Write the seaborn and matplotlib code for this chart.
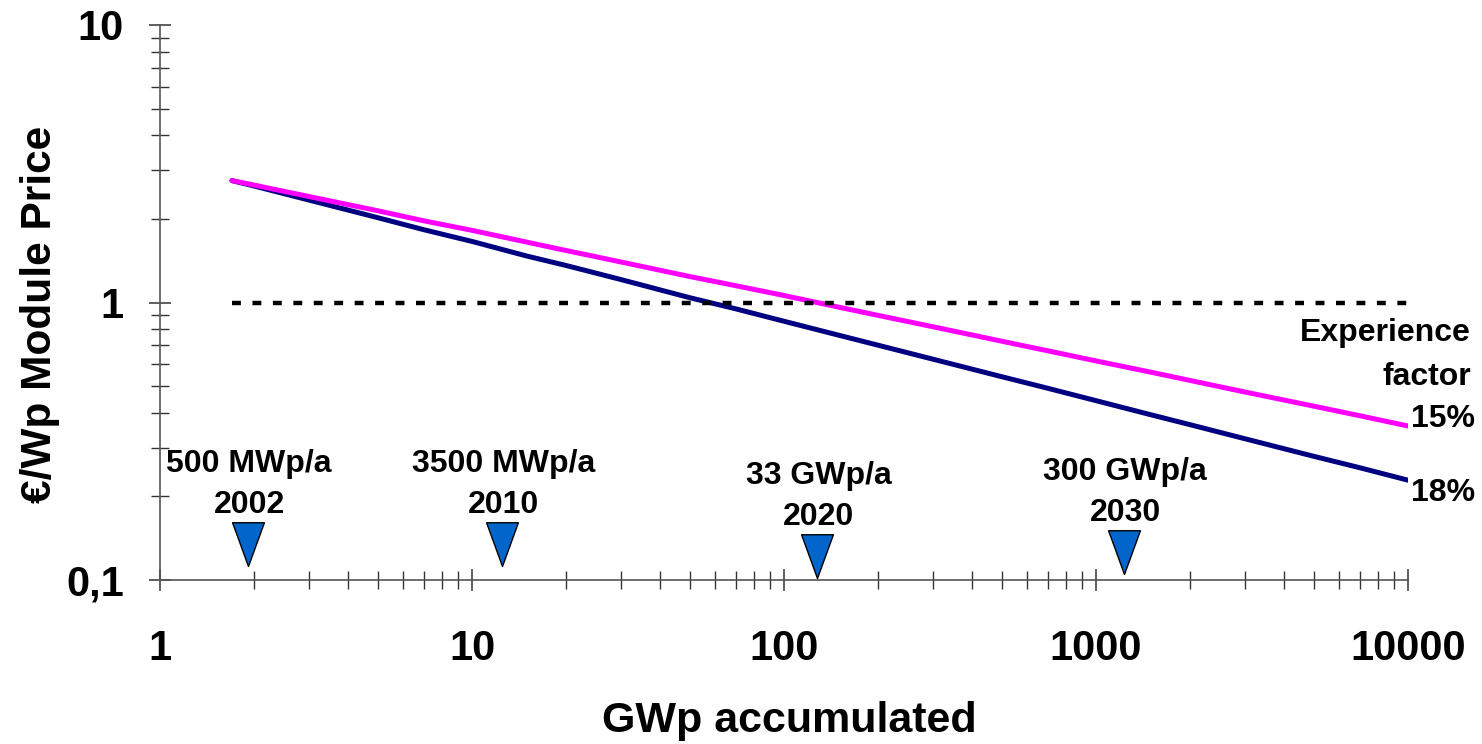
import numpy as np
import pandas as pd
import matplotlib
matplotlib.use("Agg")
import matplotlib.pyplot as plt
from matplotlib.path import Path
import seaborn as sns

# ---- data ----
gwp = [1.7, 2, 3, 5, 7, 10, 15, 20, 30, 50, 70, 100, 150, 200, 300,
       500, 700, 1000, 1500, 2000, 3000, 5000, 7000, 10000]
price_15 = [2.75, 2.65, 2.41, 2.14, 1.97, 1.82, 1.65, 1.54, 1.40, 1.24, 1.15, 1.06,
            0.962, 0.899, 0.818, 0.725, 0.670, 0.616, 0.561, 0.524, 0.476, 0.423,
            0.391, 0.359]
price_18 = [2.75, 2.63, 2.34, 2.02, 1.83, 1.66, 1.47, 1.36, 1.21, 1.04, 0.949, 0.856,
            0.762, 0.702, 0.625, 0.540, 0.491, 0.443, 0.394, 0.363, 0.323, 0.279,
            0.254, 0.229]
ref_x = [1.7, 10000]
ref_y = [1.0, 1.0]

years = ["2002", "2010", "2020", "2030"]
capacity = ["500 MWp/a", "3500 MWp/a", "33 GWp/a", "300 GWp/a"]
year_gwp = [1.91, 12.5, 128, 1230]
year_tip = [0.112, 0.112, 0.1017, 0.105]

sns.set_style("ticks")
plt.rcParams["font.family"] = ["Liberation Sans", "DejaVu Sans"]
plt.rcParams["font.weight"] = "bold"
plt.rcParams["text.color"] = "black"
plt.rcParams["axes.labelcolor"] = "black"
plt.rcParams["xtick.color"] = "black"
plt.rcParams["ytick.color"] = "black"

fig = plt.figure(figsize=(14.82, 7.44), dpi=100)
ax = fig.add_axes([0.108, 0.2204, 0.842, 0.746])

df = pd.DataFrame({"gwp": gwp, "p15": price_15, "p18": price_18})
sns.lineplot(data=df, x="gwp", y="p18", color="#000080", lw=3.6, ax=ax,
             estimator=None, sort=False)
sns.lineplot(data=df, x="gwp", y="p15", color="#FF00FF", lw=3.6, ax=ax,
             estimator=None, sort=False)
sns.lineplot(x=ref_x, y=ref_y, color="black", lw=3.2, ax=ax,
             linestyle=(0, (2, 2.6)))

ax.set_xscale("log")
ax.set_yscale("log")
ax.set_xlim(1, 10000)
ax.set_ylim(0.1, 10)

# milestone triangles, tip at the point
tri = Path([(-0.364, 1.0), (0.364, 1.0), (0.0, 0.0), (-0.364, 1.0)],
           [Path.MOVETO, Path.LINETO, Path.LINETO, Path.CLOSEPOLY])
ax.scatter(year_gwp, year_tip, marker=tri, s=63 ** 2, color="#0066CC",
           edgecolor="black", linewidth=1.0, zorder=5, clip_on=False)
for xg, yt, yr, cap in zip(year_gwp, year_tip, years, capacity):
    ax.annotate(yr, (xg, yt), xytext=(1, 44), textcoords="offset points",
                ha="center", va="center", fontsize=23, fontweight="bold")
    ax.annotate(cap, (xg, yt), xytext=(1, 73.5), textcoords="offset points",
                ha="center", va="center", fontsize=23, fontweight="bold")

ax.text(1.0505, 0.445, "Experience", transform=ax.transAxes, ha="right",
        va="center", fontsize=23, fontweight="bold")
ax.text(1.0505, 0.366, "factor", transform=ax.transAxes, ha="right",
        va="center", fontsize=23, fontweight="bold")
ax.annotate("15%", (gwp[-1], price_15[-1]), xytext=(2, 5), textcoords="offset points",
            ha="left", va="center", fontsize=23, fontweight="bold", annotation_clip=False)
ax.annotate("18%", (gwp[-1], price_18[-1]), xytext=(2, -9.5), textcoords="offset points",
            ha="left", va="center", fontsize=23, fontweight="bold", annotation_clip=False)

# axes styling
for side in ["top", "right"]:
    ax.spines[side].set_visible(False)
for side in ["left", "bottom"]:
    ax.spines[side].set_color("#555555")
    ax.spines[side].set_linewidth(1.2)

ax.set_yticks([0.1, 1, 10], labels=["0,1", "1", "10"])
ax.set_xticks([1, 10, 100, 1000, 10000], labels=["1", "10", "100", "1000", "10000"])
ax.tick_params(which="both", bottom=True, left=True, top=False, right=False)
ax.tick_params(which="major", direction="inout", length=16, width=1.1, color="#333333",
               labelsize=30)
ax.tick_params(which="minor", direction="inout", length=12.5, width=1.0, color="#333333")
ax.tick_params(axis="y", which="major", pad=18)
ax.tick_params(axis="x", which="major", pad=27)
for lab in ax.get_xticklabels() + ax.get_yticklabels():
    lab.set_fontweight("bold")

ax.set_xlabel("GWp accumulated", fontsize=31, fontweight="bold")
ax.set_ylabel("€/Wp Module Price", fontsize=30.5, fontweight="bold")
ax.xaxis.set_label_coords(0.504, -0.218)
ax.yaxis.set_label_coords(-0.0805, 0.479)

fig.savefig("out.png", dpi=100)
